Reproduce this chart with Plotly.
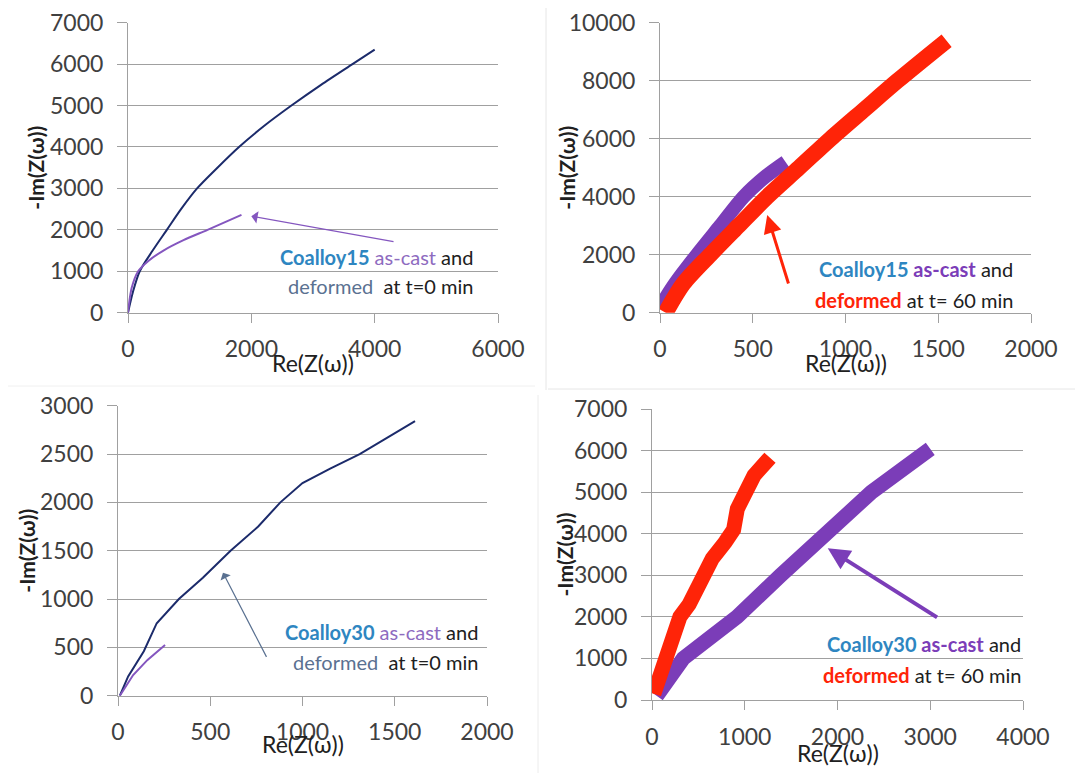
import plotly.graph_objects as go

# ---------------- data ----------------
# Panel A: Coalloy15, t=0 min
a_cast_x = [0, 80, 190, 400, 630, 860, 1120, 1450, 1800, 2200, 2650, 3130, 3640, 4000]
a_cast_y = [0, 500, 1000, 1500, 2000, 2500, 3000, 3500, 4000, 4500, 5000, 5500, 6000, 6350]
a_def_x = [0, 60, 165, 330, 575, 900, 1290, 1840]
a_def_y = [0, 600, 1000, 1250, 1500, 1750, 2000, 2360]

# Panel B: Coalloy15, t=60 min
b_cast_x = [0, 80, 199, 325, 451, 570, 677]
b_cast_y = [200, 1000, 2000, 3000, 4000, 4700, 5200]
b_def_x = [30, 126, 271, 424, 578, 750, 920, 1100, 1281, 1545]
b_def_y = [0, 1000, 2000, 3000, 4000, 5000, 6000, 7000, 8000, 9380]

# Panel C: Coalloy30, t=0 min
c_cast_x = [10, 55, 140, 210, 330, 460, 610, 760, 880, 1000, 1150, 1310, 1460, 1610]
c_cast_y = [0, 200, 460, 750, 1000, 1220, 1500, 1750, 2000, 2200, 2350, 2500, 2670, 2840]
c_def_x = [10, 82, 160, 255]
c_def_y = [0, 214, 370, 525]

# Panel D: Coalloy30, t=60 min
d_cast_x = [50, 180, 337, 627, 917, 1388, 1859, 2366, 3000]
d_cast_y = [100, 500, 1000, 1500, 2000, 3000, 4000, 5000, 6040]
d_def_x = [20, 80, 138, 230, 301, 400, 480, 554, 650, 790, 880, 920, 989, 1100, 1272]
d_def_y = [150, 500, 1000, 1500, 2000, 2300, 2700, 3000, 3400, 3800, 4100, 4600, 5000, 5400, 5830]

x_ranges = [[0, 6000], [0, 2000], [0, 2000], [0, 4000]]
x_dticks = [2000, 500, 500, 1000]
y_ranges = [[0, 7000], [0, 10000], [0, 3000], [0, 7000]]
y_dticks = [1000, 2000, 500, 1000]

# ---------------- style ----------------
W, H = 1083, 773
OFF = 8  # page body margin offset
FONT = "Lato"
NAVY = "#1c2b6b"
PURPLE_THIN = "#8456bf"
PURPLE = "#7b3db8"
RED = "#ff2408"
BLUE_TXT = "#2e86c1"
SLATE = "#5a7191"
GRID = "#a0a0a0"

# pixel boxes of panels in the picture (left, top, right, bottom)
boxes = [(128, 22.7, 498, 312.7), (660, 22.7, 1031, 312.7),
         (118, 405.7, 487, 695.7), (652, 409, 1023, 700)]

def px(v):
    return (v - OFF) / W

def py(v):
    return 1 - (v - OFF) / H

fig = go.Figure()

def add_line(x, y, color, width, k, shape="linear"):
    ln = dict(color=color, width=width, shape=shape)
    if shape == "spline":
        ln["smoothing"] = 0.8
    fig.add_trace(go.Scatter(x=x, y=y, mode="lines", line=ln,
                             xaxis="x" if k == 1 else f"x{k}",
                             yaxis="y" if k == 1 else f"y{k}",
                             showlegend=False, hoverinfo="skip"))

add_line(a_cast_x, a_cast_y, NAVY, 2, 1, "spline")
add_line(a_def_x, a_def_y, PURPLE_THIN, 2, 1, "spline")
add_line(b_cast_x, b_cast_y, PURPLE, 14, 2, "spline")
add_line(b_def_x, b_def_y, RED, 16, 2, "spline")
add_line(c_cast_x, c_cast_y, NAVY, 2, 3)
add_line(c_def_x, c_def_y, PURPLE_THIN, 2, 3)
add_line(d_cast_x, d_cast_y, PURPLE, 15, 4)
add_line(d_def_x, d_def_y, RED, 15, 4)

layout = dict(width=W, height=H, autosize=False,
              margin=dict(l=0, r=0, t=0, b=0, pad=0, autoexpand=False),
              paper_bgcolor="white", plot_bgcolor="white", showlegend=False,
              font=dict(family=FONT, color="#404040"))

for i, (l, t, r, b) in enumerate(boxes):
    k = i + 1
    xs = "xaxis" if k == 1 else f"xaxis{k}"
    ys = "yaxis" if k == 1 else f"yaxis{k}"
    yname = "y" if k == 1 else f"y{k}"
    xname = "x" if k == 1 else f"x{k}"
    layout[xs] = dict(domain=[px(l), px(r)], range=x_ranges[i], dtick=x_dticks[i],
                      tick0=0, anchor=yname, showgrid=False, zeroline=False,
                      showline=True, linecolor=GRID, linewidth=1, automargin=False,
                      ticks="outside", ticklen=9, tickcolor=GRID,
                      ticklabelstandoff=7, tickformat="d", ticklabeloverflow="allow",
                      tickfont=dict(family=FONT, size=23, color="#404040"),
                      fixedrange=True)
    layout[ys] = dict(domain=[py(b), py(t)], range=y_ranges[i], dtick=y_dticks[i],
                      tick0=0, anchor=xname, showgrid=True, gridcolor=GRID, gridwidth=1,
                      zeroline=False, showline=True, linecolor=GRID, linewidth=1,
                      automargin=False,
                      ticks="outside", ticklen=10, tickcolor=GRID,
                      ticklabelstandoff=9, tickformat="d", ticklabeloverflow="allow",
                      tickfont=dict(family=FONT, size=23, color="#404040"),
                      fixedrange=True)

fig.update_layout(**layout)

ann = []
tfont = dict(family=FONT, size=20, color="#202020")

def dom(k):
    return ("x domain" if k == 1 else f"x{k} domain", "y domain" if k == 1 else f"y{k} domain")

x_title_shift = [-50, -50, -48, -53]
y_title_shift = [-92, -93, -91, -88]
for i in range(4):
    k = i + 1
    xr, yr = dom(k)
    ann.append(dict(text="Re(Z(ω))", xref=xr, yref=yr, x=0.5, y=0, xanchor="center",
                    yanchor="middle", yshift=x_title_shift[i], showarrow=False,
                    font=dict(family=FONT, size=23, color="#202020")))
    ann.append(dict(text="<b>-Im(Z(ω))</b>", xref=xr, yref=yr, x=0, y=0.5, xanchor="center",
                    yanchor="middle", xshift=y_title_shift[i], textangle=-90, showarrow=False,
                    font=dict(family=FONT, size=21, color="#202020")))

# panel text labels: (panel, right x frac, y line1, y line2, line1, line2)
labels = [
    (1, 0.938, 0.192, 0.092,
     f"<b><span style='color:{BLUE_TXT}'>Coalloy15</span></b> <span style='color:#8e6bbf'>as-cast</span> and",
     f"<span style='color:{SLATE}'>deformed</span>  at t=0 min"),
    (2, 0.957, 0.150, 0.044,
     f"<b><span style='color:{BLUE_TXT}'>Coalloy15</span> <span style='color:{PURPLE}'>as-cast</span></b> and",
     f"<b><span style='color:{RED}'>deformed</span></b> at t= 60 min"),
    (3, 0.981, 0.220, 0.116,
     f"<b><span style='color:{BLUE_TXT}'>Coalloy30</span></b> <span style='color:#8e6bbf'>as-cast</span> and",
     f"<span style='color:{SLATE}'>deformed</span>  at t=0 min"),
    (4, 1.0, 0.192, 0.086,
     f"<b><span style='color:{BLUE_TXT}'>Coalloy30</span> <span style='color:{PURPLE}'>as-cast</span></b> and",
     f"<b><span style='color:{RED}'>deformed</span></b> at t= 60 min"),
]
for k, xf, y1, y2, t1, t2 in labels:
    xr, yr = dom(k)
    for yy, tt in ((y1, t1), (y2, t2)):
        ann.append(dict(text=tt, xref=xr, yref=yr, x=xf, y=yy, xanchor="right",
                        yanchor="middle", showarrow=False, font=tfont))

# arrows: (panel, tail x, tail y, head x, head y, color, width, head style, head size)
arrows = [
    (1, 4330, 1710, 2000, 2330, PURPLE_THIN, 1.3, 1, 1.6),
    (2, 695, 954, 578, 3367, RED, 3, 2, 1.2),
    (3, 809, 386, 569, 1272, SLATE, 1.2, 1, 1.6),
    (4, 3090, 1965, 1895, 3649, PURPLE, 4, 2, 1.1),
]
for k, tx, ty, hx, hy, col, w, hs, sz in arrows:
    xn = "x" if k == 1 else f"x{k}"
    yn = "y" if k == 1 else f"y{k}"
    ann.append(dict(x=hx, y=hy, ax=tx, ay=ty, xref=xn, yref=yn, axref=xn, ayref=yn,
                    text="", showarrow=True, arrowhead=hs, arrowsize=sz,
                    arrowwidth=w, arrowcolor=col))

fig.update_layout(annotations=ann)

# faint panel borders
def vline(x, y0, y1, c):
    return dict(type="line", xref="paper", yref="paper", x0=px(x), x1=px(x),
                y0=py(y1), y1=py(y0), line=dict(color=c, width=1))

def hline(y, x0, x1, c):
    return dict(type="line", xref="paper", yref="paper", x0=px(x0), x1=px(x1),
                y0=py(y), y1=py(y), line=dict(color=c, width=1))

shapes = [
    vline(546, OFF, 390, "#e6e6e6"),
    hline(389, 548, W + OFF, "#e6e6e6"),
    vline(538, 395, H + OFF, "#ececec"),
    hline(386, OFF, 535, "#f0f0f0"),
]
fig.update_layout(shapes=shapes)

fig.write_html("out.html")
